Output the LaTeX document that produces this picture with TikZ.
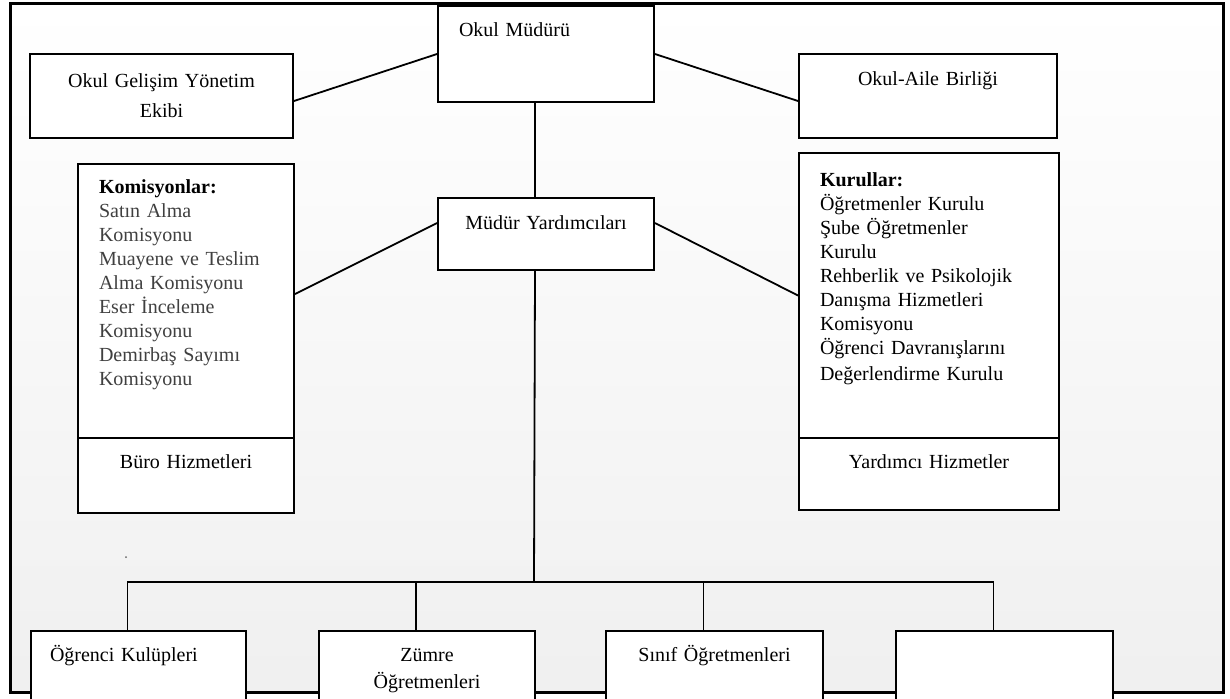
\documentclass[tikz,border=0pt]{standalone}
\usepackage{fontspec}
\setmainfont{Liberation Serif}
\usepackage{xcolor}
\usepackage{tikz}

\begin{document}
\begin{tikzpicture}[x=0.5pt, y=-0.5pt,
  kutu/.style={draw, fill=white, line width=1pt, inner sep=0pt, anchor=north west, font=\fontsize{10}{12}\selectfont},
  bag/.style={line width=0.9pt}]

\useasboundingbox (0,0) rectangle (1230,698);

\draw[line width=1.5pt, top color=white, bottom color=black!6] (10,3) rectangle (1223,692);

\begin{scope}

\node[kutu, text width=87pt, inner xsep=10.5pt, align=left, text height=15pt, text depth=33pt] (mudur) at (437,5) {Okul Müdürü};

\node[kutu, text width=131.5pt, align=center, minimum height=42pt] (gelisim) at (29,53) {Okul Gelişim Yönetim\\[3pt]Ekibi};

\node[kutu, text width=129pt, align=center, text height=15.5pt, text depth=26.5pt] (aile) at (798,53) {Okul-Aile Birliği};

\node[kutu, text width=108pt, align=center, text height=15.5pt, text depth=20.5pt] (yard) at (437,197) {Müdür Yardımcıları};

\draw[bag] ([yshift=-2.5pt]gelisim.east)--(mudur.west);
\draw[bag] (mudur.east)--([yshift=-2.5pt]aile.west);
\draw[bag] ([xshift=-5.5pt]mudur.south)--([xshift=-5.5pt]yard.north);

\end{scope}

\begin{scope}

\node[kutu, text width=87pt, inner xsep=10.5pt, align=left, text height=14.5pt, text depth=122.5pt] (komisyon) at (77,163) {\textbf{Komisyonlar:}\\ \color{black!75}Satın Alma\\ Komisyonu\\ Muayene ve Teslim\\ Alma Komisyonu\\ Eser İnceleme\\ Komisyonu\\ Demirbaş Sayımı\\ Komisyonu};
\node[kutu, text width=108pt, align=center, text height=15pt, text depth=22.5pt] (buro) at (77,437) {Büro Hizmetleri};

\node[kutu, text width=109pt, inner xsep=10.5pt, align=left, text height=16.5pt, text depth=126pt] (kurul) at (798,152) {\textbf{Kurullar:}\\ Öğretmenler Kurulu\\ Şube Öğretmenler\\ Kurulu\\ Rehberlik ve Psikolojik\\ Danışma Hizmetleri\\ Komisyonu\\ Öğrenci Davranışlarını\\[1pt] Değerlendirme Kurulu};
\node[kutu, text width=130pt, align=center, text height=15pt, text depth=21pt] (yhizmet) at (798,437) {Yardımcı Hizmetler};

\draw[bag] ([yshift=3.5pt]komisyon.east)--([yshift=5.5pt]yard.west);
\draw[bag] ([yshift=5.5pt]yard.east)--(kurul.west);

\end{scope}

\begin{scope}

\node[kutu, text width=88.5pt, inner xsep=9.5pt, align=left, text height=15pt, text depth=30pt] (kulup) at (30,630) {Öğrenci Kulüpleri};
\node[kutu, text width=108pt, align=center, text height=15pt, text depth=30pt] (zumre) at (318,630) {Zümre\\[1.5pt]Öğretmenleri};
\node[kutu, text width=108.5pt, align=center, text height=15pt, text depth=30pt] (sinif) at (605,630) {Sınıf Öğretmenleri};
\node[kutu, minimum width=108.5pt, minimum height=45pt] (bos) at (895,630) {};

\coordinate (bus) at (534,582);
\draw[bag] ([xshift=-5.5pt]yard.south)--(bus);
\foreach \k in {kulup,zumre,sinif,bos}{
	\draw[bag] (bus) -| ([xshift=-5.5pt]\k.north);
}

\fill[black!60] (126,557) circle (0.5pt);

\end{scope}

\end{tikzpicture}
\end{document}
